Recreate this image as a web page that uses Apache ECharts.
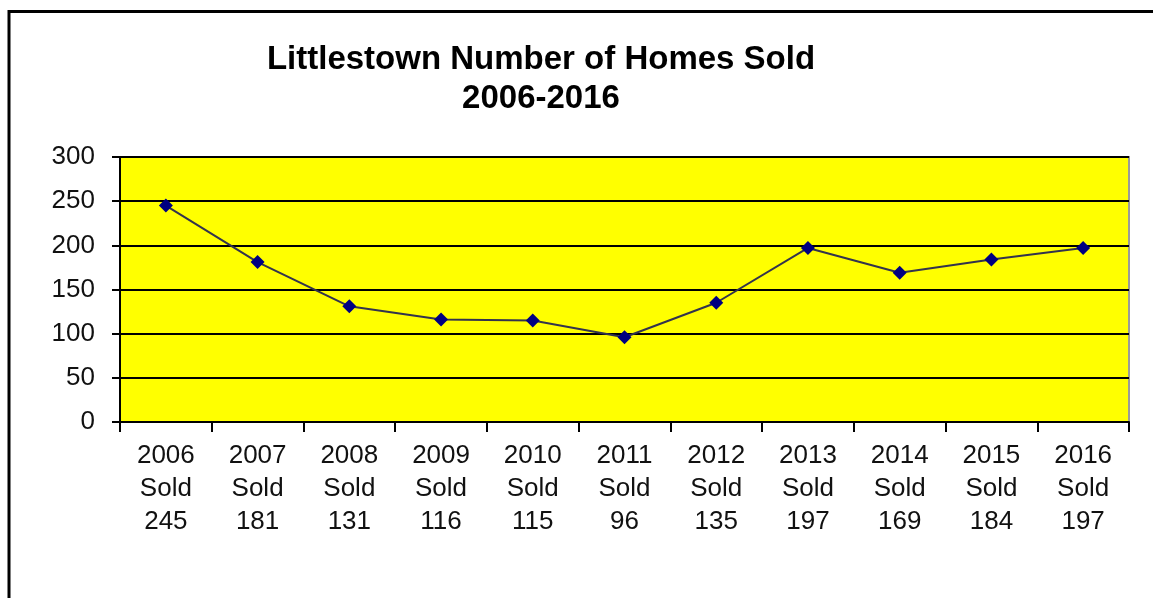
<!DOCTYPE html>
<html><head><meta charset="utf-8">
<script src="https://cdn.jsdelivr.net/npm/echarts@6/dist/echarts.min.js"></script>
<style>html,body{margin:0;padding:0;background:#fff}#c{width:1153px;height:598px}</style>
</head><body><div id="c"></div>
<script>
const years = ['2006','2007','2008','2009','2010','2011','2012','2013','2014','2015','2016'];
const sold = [245,181,131,116,115,96,135,197,169,184,197];
const yTicks = [0,50,100,150,200,250,300];
const titleLines = ['Littlestown Number of Homes Sold','2006-2016'];

const chart = echarts.init(document.getElementById('c'));
const font = '"Liberation Sans", Arial, sans-serif';
chart.setOption({
  animation: false,
  backgroundColor: '#fff',
  title: {
    text: titleLines.join('\n'),
    left: 536, top: 35, textAlign: 'center',
    textStyle: {fontFamily: font, fontWeight: 'bold', fontSize: 33, lineHeight: 39, color: '#000'}
  },
  graphic: [{type:'rect', shape:{x:9, y:11.5, width:1300, height:800}, style:{fill:'none', stroke:'#000', lineWidth:3}, silent:true}],
  grid: {left:120, top:157, right:24, bottom:176, show:true, backgroundColor:'#ffff00', borderColor:'#9a9a9a', borderWidth:2},
  xAxis: {
    type:'category', data: years, boundaryGap:true,
    axisLine:{lineStyle:{color:'#000', width:2}},
    axisTick:{show:true, length:10, lineStyle:{color:'#000', width:2}},
    axisLabel:{
      margin:17, fontFamily: font, fontSize:26, lineHeight:33, color:'#111',
      formatter: (v, i) => v + '\nSold\n' + sold[i]
    }
  },
  yAxis: {
    type:'value', min:yTicks[0], max:yTicks[yTicks.length-1], interval:50,
    axisLine:{show:true, lineStyle:{color:'#000', width:2}},
    axisTick:{show:true, length:8, lineStyle:{color:'#000', width:2}},
    splitLine:{show:true, lineStyle:{color:'#000', width:2}},
    axisLabel:{margin:25, fontFamily: font, fontSize:26, color:'#111'}
  },
  series: [{
    type:'line', data: sold,
    symbol:'diamond', symbolSize:14,
    lineStyle:{color:'#33334d', width:2},
    itemStyle:{color:'#000080'}
  }]
});
</script></body></html>
